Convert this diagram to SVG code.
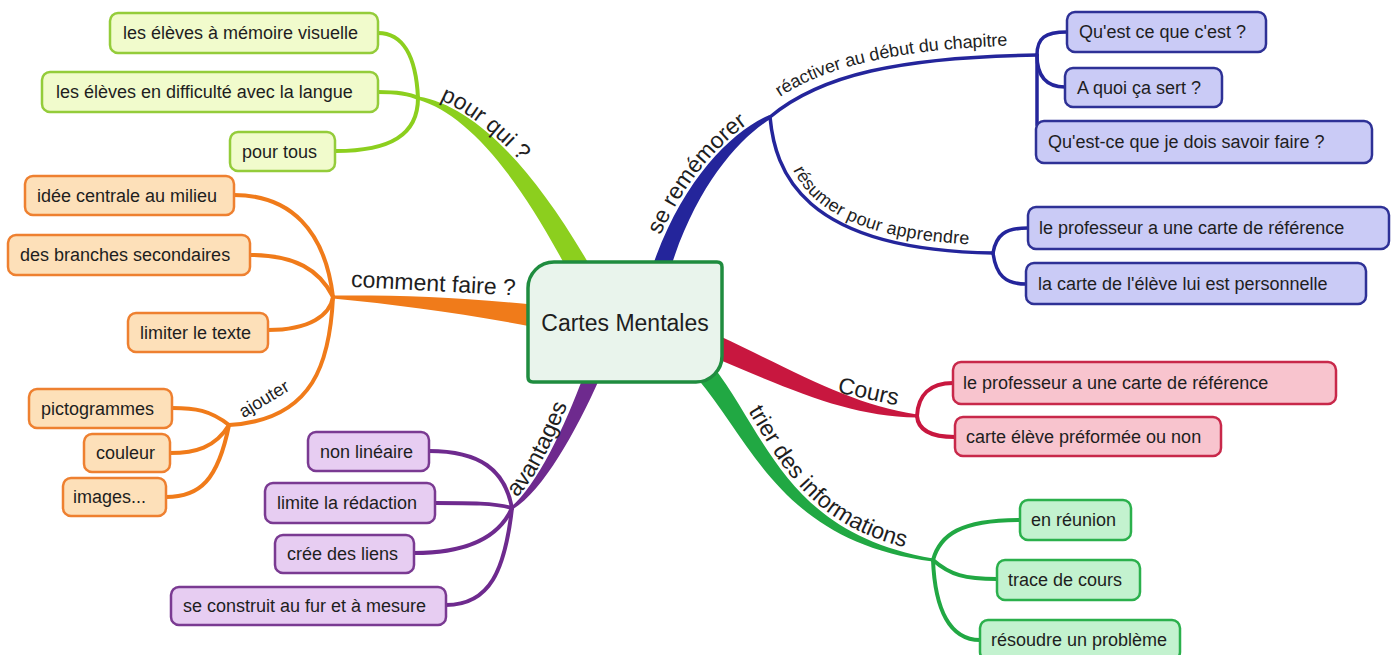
<svg xmlns="http://www.w3.org/2000/svg" xmlns:xlink="http://www.w3.org/1999/xlink" width="1397" height="655" viewBox="0 0 1397 655">
<style>
.t{font-family:"Liberation Sans",Arial,Helvetica,sans-serif;fill:#1e1e1e}
.leaf{font-size:18px}
.br{font-size:23px}
.sub{font-size:18px}
.ln{fill:none;stroke-width:4;stroke-linecap:round}
.bln{fill:none;stroke-width:3.5;stroke-linecap:round;stroke:#24259b}
.box{stroke-width:2.5}
.lg{stroke:#8ccf1e}.lgf{fill:#8ccf1e}.lgb{fill:#f1fbcc;stroke:#94cc3a}
.or{stroke:#f07b1a}.orf{fill:#f07b1a}.orb{fill:#fde0b9;stroke:#ee8030}
.pu{stroke:#6e2a8e}.puf{fill:#6e2a8e}.pub{fill:#e7cdf2;stroke:#7a3a92}
.blf{fill:#24259b}.blb{fill:#cacbf6;stroke:#2e3196}
.rd{stroke:#c8173f}.rdf{fill:#c8173f}.rdb{fill:#f8c4ce;stroke:#c8284a}
.gr{stroke:#21a843}.grf{fill:#21a843}.grb{fill:#c3f2cf;stroke:#2bb04c}
</style>
<defs>
<path id="tp-pourqui" d="M419,93 C471,105 536,161 594,267"/>
<path id="tp-avantages" d="M509,504 C537,484 559,426 581,372"/>
<path id="tp-rememorer" d="M647,271 C675,181 732,130 767,112"/>
<path id="tp-reactiver" d="M764,109 C814,67 898,47 1037,45"/>
<path id="tp-resumer" d="M780,117 C785,170 800,242 993,245"/>
<path id="tp-trier" d="M716,363 C771,431 786,531 934,553"/>
</defs>
<g id="connectors">
<path class="lgf" d="M417.7,99.5 C467.2,114.2 517,172.8 572.4,279.3 L591.6,268.7 C531,163.2 472.8,105.8 418.3,96.5 Z"/>
<path class="orf" d="M332.9,298.5 C399.7,305 459.1,312.9 533.4,326.9 L536.6,305.1 C460.9,297.1 400.3,295 333.1,295.5 Z"/>
<path class="puf" d="M512.9,509.2 C543.2,490.4 575.4,432.5 599.4,379 L584.6,373 C564.6,427.5 536.8,485.6 511.1,506.8 Z"/>
<path class="blf" d="M769.1,115.2 C731.8,131.1 680.4,181.4 650.4,272.3 L667.6,277.7 C693.6,188.6 738.2,138.9 770.9,118.8 Z"/>
<path class="rdf" d="M917.1,414.5 C851.6,404.2 803.9,375.9 719.5,336 L710.5,356 C796.1,392.1 848.4,415.8 916.9,417.5 Z"/>
<path class="grf" d="M697.2,378.3 C752.8,443.5 782.2,542.1 932.8,561.5 L933.2,558.5 C787.9,533.9 767.2,436.5 712.8,365.7 Z"/>
<path class="ln lg" d="M378,33 C402,33 416,55 418,98"/>
<path class="ln lg" d="M378,92 C395,92 410,94 418,98"/>
<path class="ln lg" d="M418,98 C418,135 390,151 336,151"/>
<path class="ln or" d="M234,195 C290,195 325,230 333,297"/>
<path class="ln or" d="M250,255 C295,255 320,270 333,297"/>
<path class="ln or" d="M268,330 C310,330 330,315 333,297"/>
<path class="ln or" d="M333,297 C330,360 315,420 229,425"/>
<path class="ln or" d="M229,425 C210,410 195,408 172,408"/>
<path class="ln or" d="M229,425 C215,448 195,453 170,453"/>
<path class="ln or" d="M229,425 C218,480 200,497 166,497"/>
<path class="ln pu" d="M429,451 C480,451 505,470 512,508"/>
<path class="ln pu" d="M435,503 C470,503 495,503 512,508"/>
<path class="ln pu" d="M414,553 C470,553 500,535 512,508"/>
<path class="ln pu" d="M446,605 C490,605 505,570 512,508"/>
<path class="bln" d="M770,117 C820,75 900,57 1037,55"/>
<path class="bln" d="M770,117 C775,170 800,250 993,253"/>
<path class="bln" d="M1037,55 C1037,38 1045,32 1067,32"/>
<path class="bln" d="M1037,55 C1037,75 1045,87 1065,87"/>
<path class="bln" d="M1037,55 L1037,125"/>
<path class="bln" d="M993,253 C996,235 1005,228 1028,228"/>
<path class="bln" d="M993,253 C996,275 1005,284 1026,284"/>
<path class="ln rd" d="M917,416 C918,395 930,383 953,383"/>
<path class="ln rd" d="M917,416 C918,430 930,437 955,437"/>
<path class="ln gr" d="M933,560 C940,535 960,520 1020,520"/>
<path class="ln gr" d="M933,560 C950,575 965,579 997,579"/>
<path class="ln gr" d="M933,560 C935,610 950,640 980,640"/>
<text class="t br"><textPath xlink:href="#tp-pourqui" href="#tp-pourqui" startOffset="22">pour qui ?</textPath></text>
<text class="t br" x="433" y="291" text-anchor="middle" transform="rotate(3 433 291)">comment faire ?</text>
<text class="t sub" x="267" y="404" text-anchor="middle" transform="rotate(-31 267 404)">ajouter</text>
<text class="t br"><textPath xlink:href="#tp-avantages" href="#tp-avantages" startOffset="10">avantages</textPath></text>
<text class="t br"><textPath xlink:href="#tp-rememorer" href="#tp-rememorer" startOffset="38">se remémorer</textPath></text>
<text class="t sub"><textPath xlink:href="#tp-reactiver" href="#tp-reactiver" startOffset="20" textLength="236" lengthAdjust="spacing">réactiver au début du chapitre</textPath></text>
<text class="t sub"><textPath xlink:href="#tp-resumer" href="#tp-resumer" startOffset="55" textLength="200" lengthAdjust="spacing">résumer pour apprendre</textPath></text>
<text class="t br" x="867" y="399" text-anchor="middle" transform="rotate(12 867 399)">Cours</text>
<text class="t br"><textPath xlink:href="#tp-trier" href="#tp-trier" startOffset="58">trier des informations</textPath></text>
</g>
<g id="center">
<path d="M554,262 L717,262 Q722,262 722,267 L722,356 A26,26 0 0 1 696,382 L533,382 Q528,382 528,377 L528,288 A26,26 0 0 1 554,262 Z" fill="#e9f4ec" stroke="#1f8c3f" stroke-width="3.5"/>
<text class="t" x="625" y="331" text-anchor="middle" font-size="23">Cartes Mentales</text>
</g>
<g id="n-memoire"><rect class="box lgb" x="110" y="13" width="268" height="40" rx="8"/><text class="t leaf" x="123" y="39">les élèves à mémoire visuelle</text></g>
<g id="n-difficulte"><rect class="box lgb" x="42" y="72" width="336" height="40" rx="8"/><text class="t leaf" x="56" y="98">les élèves en difficulté avec la langue</text></g>
<g id="n-tous"><rect class="box lgb" x="230" y="132" width="105" height="39" rx="8"/><text class="t leaf" x="242" y="158">pour tous</text></g>
<g id="n-idee"><rect class="box orb" x="25" y="176" width="209" height="39" rx="8"/><text class="t leaf" x="37" y="202">idée centrale au milieu</text></g>
<g id="n-branches"><rect class="box orb" x="8" y="235" width="242" height="40" rx="8"/><text class="t leaf" x="20" y="261">des branches secondaires</text></g>
<g id="n-limiter"><rect class="box orb" x="128" y="313" width="140" height="39" rx="8"/><text class="t leaf" x="140" y="339">limiter le texte</text></g>
<g id="n-picto"><rect class="box orb" x="29" y="389" width="143" height="39" rx="8"/><text class="t leaf" x="41" y="415">pictogrammes</text></g>
<g id="n-couleur"><rect class="box orb" x="84" y="434" width="86" height="38" rx="8"/><text class="t leaf" x="96" y="459">couleur</text></g>
<g id="n-images"><rect class="box orb" x="63" y="478" width="103" height="38" rx="8"/><text class="t leaf" x="73" y="503">images...</text></g>
<g id="n-nonlin"><rect class="box pub" x="308" y="432" width="121" height="39" rx="8"/><text class="t leaf" x="320" y="458">non linéaire</text></g>
<g id="n-redaction"><rect class="box pub" x="265" y="483" width="170" height="40" rx="8"/><text class="t leaf" x="277" y="509">limite la rédaction</text></g>
<g id="n-liens"><rect class="box pub" x="275" y="535" width="139" height="38" rx="8"/><text class="t leaf" x="287" y="560">crée des liens</text></g>
<g id="n-construit"><rect class="box pub" x="171" y="587" width="275" height="38" rx="8"/><text class="t leaf" x="183" y="612">se construit au fur et à mesure</text></g>
<g id="n-questce"><rect class="box blb" x="1067" y="12" width="199" height="40" rx="8"/><text class="t leaf" x="1079" y="38">Qu'est ce que c'est ?</text></g>
<g id="n-aquoi"><rect class="box blb" x="1065" y="68" width="157" height="39" rx="8"/><text class="t leaf" x="1077" y="94">A quoi ça sert ?</text></g>
<g id="n-savoir"><rect class="box blb" x="1036" y="121" width="336" height="42" rx="8"/><text class="t leaf" x="1048" y="148">Qu'est-ce que je dois savoir faire ?</text></g>
<g id="n-profref1"><rect class="box blb" x="1028" y="207" width="361" height="42" rx="8"/><text class="t leaf" x="1039" y="234">le professeur a une carte de référence</text></g>
<g id="n-carteeleve"><rect class="box blb" x="1026" y="263" width="340" height="41" rx="8"/><text class="t leaf" x="1038" y="290">la carte de l'élève lui est personnelle</text></g>
<g id="n-profref2"><rect class="box rdb" x="953" y="362" width="383" height="42" rx="8"/><text class="t leaf" x="963" y="389">le professeur a une carte de référence</text></g>
<g id="n-preformee"><rect class="box rdb" x="955" y="417" width="266" height="39" rx="8"/><text class="t leaf" x="966" y="443">carte élève préformée ou non</text></g>
<g id="n-reunion"><rect class="box grb" x="1020" y="500" width="111" height="40" rx="8"/><text class="t leaf" x="1031" y="526">en réunion</text></g>
<g id="n-trace"><rect class="box grb" x="997" y="560" width="143" height="40" rx="8"/><text class="t leaf" x="1008" y="586">trace de cours</text></g>
<g id="n-resoudre"><rect class="box grb" x="980" y="620" width="200" height="40" rx="8"/><text class="t leaf" x="991" y="646">résoudre un problème</text></g>
</svg>
